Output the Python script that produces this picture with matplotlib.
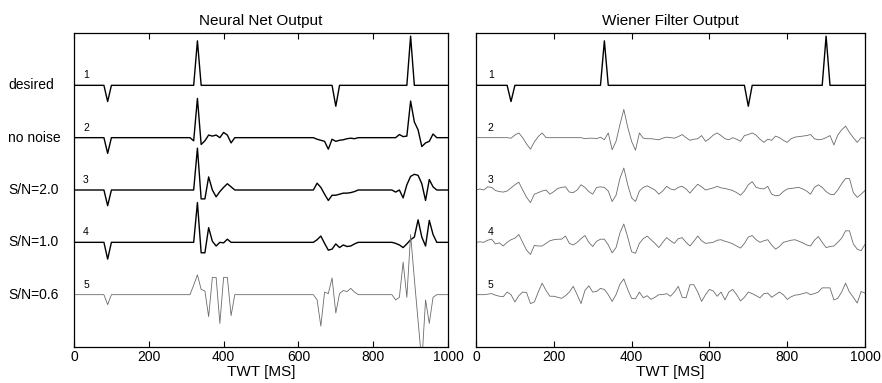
import numpy as np
import matplotlib
matplotlib.use("Agg")
import matplotlib.pyplot as plt
from matplotlib.transforms import blended_transform_factory

plt.rcParams['font.family'] = ['Liberation Sans', 'DejaVu Sans']

# time axis, 10 ms sampling
t = np.arange(0, 1001, 10)

trace_names = ["desired", "no noise", "S/N=2.0", "S/N=1.0", "S/N=0.6"]
trace_nums = ["1", "2", "3", "4", "5"]

# reflectivity spikes (non-zero samples only)
desired = {90: -0.31, 330: 0.85, 700: -0.4, 900: 0.94}

# neural net outputs (non-zero samples only)
nn_nonoise = {90: -0.3, 320: -0.06, 330: 0.75, 340: -0.13, 350: -0.06, 360: 0.05,
              370: 0.03, 380: 0.05, 390: 0.0, 400: 0.1, 410: 0.05, 420: -0.1,
              650: -0.03, 660: -0.05, 670: -0.07, 680: -0.22, 690: -0.03, 700: -0.07,
              710: -0.05, 720: -0.04, 730: -0.02, 740: -0.01, 750: -0.02,
              870: 0.06, 880: 0.02, 890: 0.03, 900: 0.7, 910: 0.3, 920: 0.15,
              930: -0.17, 940: -0.1, 950: -0.07, 960: 0.07}
nn_sn20 = {90: -0.3, 330: 0.8, 340: -0.17, 350: -0.17, 360: 0.25, 370: 0.0,
           380: -0.13, 390: -0.03, 400: 0.05, 410: 0.12, 420: 0.06,
           650: 0.13, 660: 0.05, 670: -0.08, 680: -0.2, 690: -0.1, 700: -0.1,
           710: -0.08, 720: -0.06, 730: -0.06, 740: -0.05, 750: -0.03,
           860: -0.04, 870: 0.0, 880: -0.15, 890: 0.1, 900: 0.26, 910: 0.3,
           920: 0.28, 930: 0.12, 940: -0.2, 950: 0.2, 960: 0.06}
nn_sn10 = {90: -0.32, 330: 0.76, 340: -0.2, 350: -0.2, 360: 0.28, 370: 0.02,
           380: -0.07, 390: 0.0, 400: -0.01, 410: 0.06, 420: 0.0,
           650: 0.05, 660: 0.12, 670: -0.02, 680: -0.15, 690: -0.13, 700: -0.03,
           710: -0.1, 720: -0.05, 730: -0.08, 740: -0.07, 750: -0.03,
           860: -0.02, 870: -0.05, 880: -0.1, 890: -0.03, 900: 0.05, 910: 0.1,
           920: 0.43, 930: 0.1, 940: -0.07, 950: 0.42, 960: 0.15}
nn_sn06 = {90: -0.19, 320: 0.18, 330: 0.38, 340: 0.1, 350: 0.07, 360: -0.42,
           370: 0.33, 380: 0.33, 390: -0.55, 400: 0.33, 410: 0.33, 420: -0.4,
           650: -0.1, 660: -0.6, 670: 0.05, 680: 0.02, 690: 0.32, 700: -0.35,
           710: 0.02, 720: 0.08, 730: 0.06, 740: 0.12, 750: 0.05,
           860: -0.1, 870: -0.05, 880: 0.62, 890: -0.05, 900: 1.15, 910: 0.3,
           920: -0.5, 930: -1.3, 940: -0.1, 950: -0.55, 960: -0.05}

# wiener filter outputs, full 101 samples
wf_nonoise = [0, 0, 0, 0, 0, 0, 0, 0, 0, -0.01,
              0.05, 0.09, 0.0, -0.12, -0.22, -0.08, 0.02, 0.09, 0.0, 0.0,
              0.0, 0.0, 0.0, 0.0, 0.0, 0.0, 0.0, 0.0, -0.02, -0.01,
              -0.01, -0.02, 0.01, -0.04, 0.09, -0.23, -0.07, 0.25, 0.54, 0.2,
              -0.07, -0.24, 0.09, -0.01, -0.02, -0.02, -0.03, -0.04, -0.01, 0.01,
              0.0, -0.01, 0.02, 0.06, 0.0, -0.05, -0.03, -0.02, 0.04, -0.07,
              -0.02, 0.05, 0.09, 0.04, -0.02, -0.04, 0.0, -0.03, -0.07, 0.04,
              0.06, 0.09, 0.05, -0.03, -0.09, -0.03, -0.05, 0.03, 0.0, -0.05,
              -0.09, -0.02, 0.01, 0.02, 0.03, 0.04, 0.06, -0.02, -0.04, -0.03,
              0.0, 0.04, -0.14, 0.05, 0.15, 0.22, 0.1, 0.0, -0.09, 0.0,
              -0.01]
wf_sn20 = [0.0, 0.02, 0.0, 0.06, 0.05, -0.01, -0.03, -0.04, -0.02, 0.04,
           0.1, 0.15, 0.0, -0.14, -0.24, -0.08, -0.05, -0.02, 0.0, -0.08,
           -0.03, 0.03, 0.05, 0.06, -0.04, -0.05, 0.0, 0.1, 0.05, -0.03,
           -0.08, 0.05, 0.06, 0.05, -0.02, -0.22, -0.1, 0.22, 0.42, 0.1,
           -0.15, -0.22, -0.02, 0.05, 0.08, 0.04, 0.0, -0.08, -0.02, 0.07,
           0.02, 0.0, 0.05, 0.07, 0.02, -0.06, 0.03, 0.11, 0.06, 0.0,
           0.02, 0.04, 0.07, 0.04, 0.03, 0.01, -0.01, -0.05, -0.1, -0.02,
           0.1, 0.16, 0.05, 0.03, 0.02, 0.07, -0.08, -0.11, -0.1, -0.03,
           0.02, 0.03, 0.04, 0.05, 0.02, -0.02, -0.08, 0.05, 0.1, 0.05,
           -0.03, -0.08, -0.09, 0.0, 0.12, 0.22, 0.22, -0.05, -0.14, -0.08,
           -0.01]
wf_sn10 = [0.0, 0.01, 0.0, 0.04, 0.06, -0.03, -0.01, -0.07, 0.0, 0.05,
           0.08, 0.15, 0.0, -0.15, -0.23, -0.06, -0.07, -0.07, -0.02, 0.03,
           0.05, 0.06, 0.06, 0.12, -0.02, -0.05, 0.0, 0.07, 0.13, 0.0,
           -0.08, 0.02, 0.06, 0.06, -0.05, -0.2, -0.1, 0.18, 0.35, 0.1,
           -0.18, -0.21, -0.02, 0.07, 0.12, 0.05, -0.02, -0.1, 0.0, 0.09,
           0.03, -0.02, 0.07, 0.09, 0.0, -0.07, 0.02, 0.12, 0.03, -0.02,
           -0.01, 0.0, 0.04, 0.05, 0.02, 0.0, -0.03, -0.07, -0.11, -0.02,
           0.1, 0.13, 0.05, 0.0, 0.03, 0.05, -0.05, -0.13, -0.08, 0.0,
           0.02, 0.04, 0.05, 0.02, -0.01, -0.05, -0.07, 0.04, 0.11, 0.0,
           -0.1, -0.08, -0.07, 0.0, 0.08, 0.22, 0.22, -0.03, -0.13, -0.16,
           -0.04]
wf_sn06 = [0.0, 0.0, 0.0, 0.01, 0.02, -0.01, -0.03, -0.04, 0.05, 0.0,
           -0.14, -0.02, 0.05, 0.04, -0.17, -0.14, 0.05, 0.22, 0.08, -0.03,
           -0.03, -0.05, -0.07, -0.02, 0.05, 0.16, 0.0, -0.17, 0.08, 0.17,
           0.05, 0.06, 0.12, 0.1, 0.0, -0.13, 0.0, 0.2, 0.3, 0.1,
           -0.07, -0.08, 0.05, -0.06, -0.02, -0.09, -0.05, 0.0, 0.0, 0.02,
           -0.03, 0.05, 0.16, -0.05, -0.06, 0.19, 0.19, 0.05, -0.13, 0.0,
           0.1, 0.07, -0.03, 0.05, -0.1, 0.05, 0.1, 0.0, -0.12, -0.05,
           0.05, 0.02, -0.02, -0.06, 0.02, 0.03, -0.05, 0.0, 0.05, 0.0,
           -0.09, -0.04, -0.01, 0.0, 0.02, 0.04, 0.0, 0.02, 0.05, 0.13,
           0.13, 0.13, -0.1, -0.07, 0.05, 0.22, 0.05, -0.05, -0.16, 0.06,
           0.03]


def sparse_trace(d):
    y = np.zeros(len(t))
    for k, v in d.items():
        y[k // 10] = v
    return y


left = [sparse_trace(desired), sparse_trace(nn_nonoise), sparse_trace(nn_sn20),
        sparse_trace(nn_sn10), sparse_trace(nn_sn06)]
right = [sparse_trace(desired), np.array(wf_nonoise), np.array(wf_sn20),
         np.array(wf_sn10), np.array(wf_sn06)]
offsets = [5, 4, 3, 2, 1]

fig = plt.figure(figsize=(8.82, 3.83), dpi=100)
ax1 = fig.add_axes([74 / 882, 36 / 383, 374 / 882, 314 / 383])
ax2 = fig.add_axes([476 / 882, 36 / 383, 389 / 882, 314 / 383])

gray = '0.42'
for i in range(5):
    if i < 4:
        ax1.plot(t, left[i] + offsets[i], color='black', lw=1.0)
    else:
        ax1.plot(t, left[i] + offsets[i], color=gray, lw=0.6)
    if i == 0:
        ax2.plot(t, right[i] + offsets[i], color='black', lw=1.0)
    else:
        ax2.plot(t, right[i] + offsets[i], color=gray, lw=0.6)
    ax1.text(32, offsets[i] + 0.19, trace_nums[i], fontsize=7.5, ha='center', va='center')
    ax2.text(38, offsets[i] + 0.19, trace_nums[i], fontsize=7.5, ha='center', va='center')

trans = blended_transform_factory(ax1.transAxes, ax1.transData)
for i in range(5):
    ax1.text(-0.176, offsets[i], trace_names[i], transform=trans,
             fontsize=10, ha='left', va='center')

for ax in (ax1, ax2):
    ax.set_xlim(0, 1000)
    ax.set_ylim(0, 6)
    ax.set_xticks([0, 200, 400, 600, 800, 1000])
    ax.set_yticks([])
    ax.tick_params(axis='x', direction='in', top=True, length=4, width=0.8,
                   labelsize=10, pad=2)
    ax.set_xlabel('TWT [MS]', fontsize=11, labelpad=1)
    for s in ax.spines.values():
        s.set_linewidth(0.9)

ax1.set_title('Neural Net Output', fontsize=11, pad=6)
ax2.set_title('Wiener Filter Output', fontsize=11, pad=6)

fig.savefig('out.png', dpi=100)
